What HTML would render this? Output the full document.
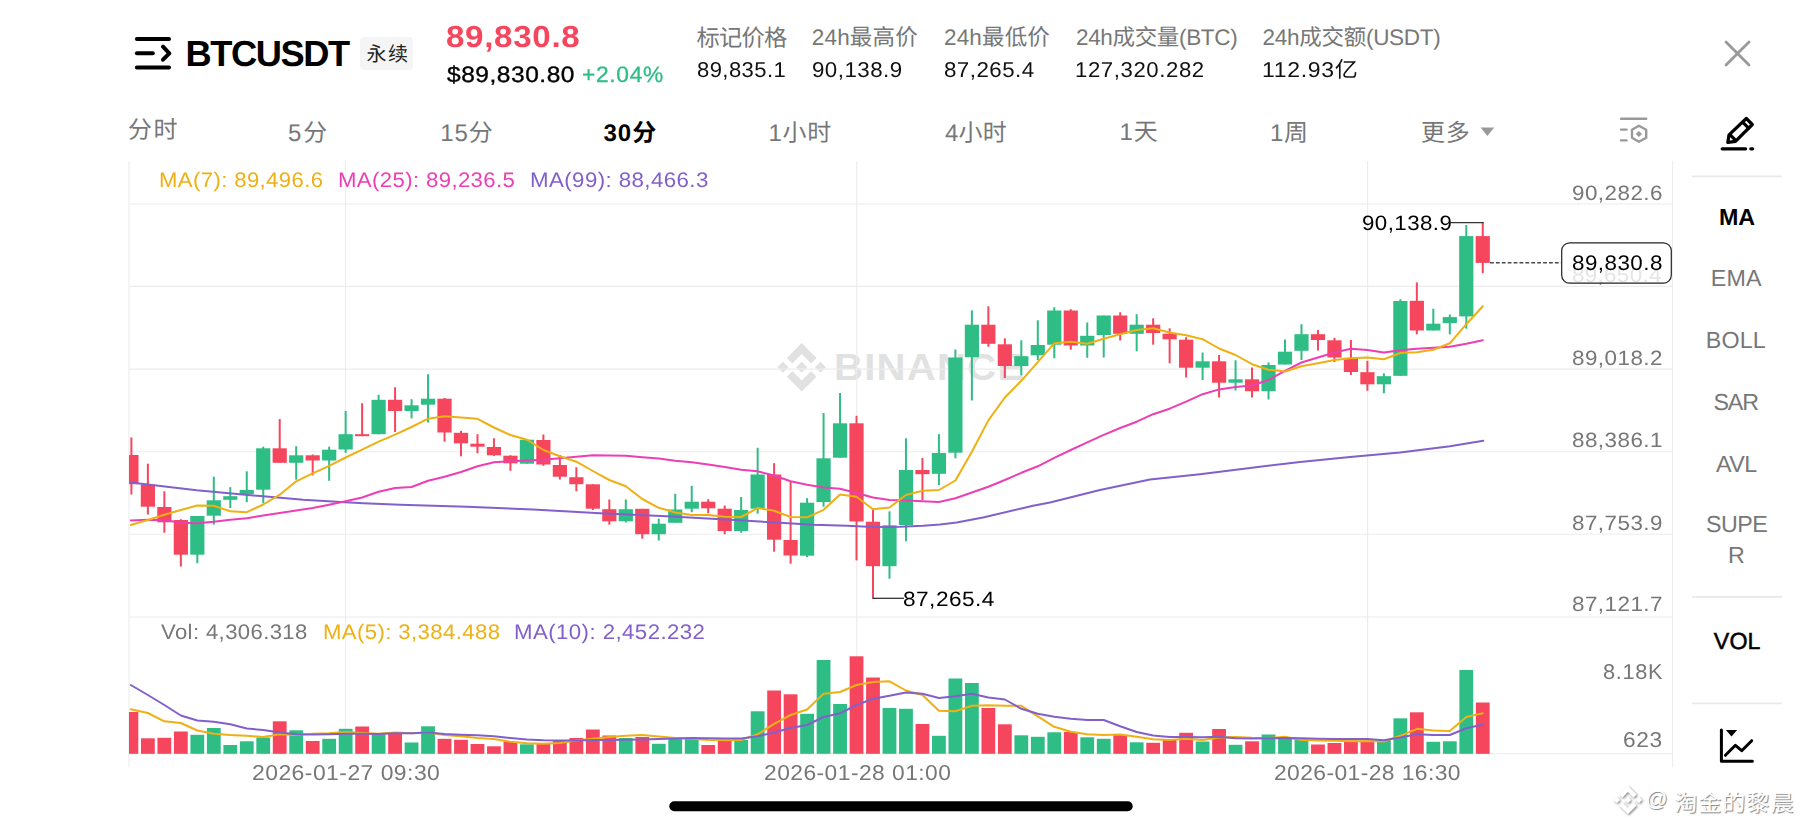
<!DOCTYPE html>
<html lang="zh"><head><meta charset="utf-8"><title>BTCUSDT</title>
<style>
html,body{margin:0;padding:0;background:#fff;}
#root{position:relative;width:1801px;height:828px;overflow:hidden;background:#fff;font-family:'Liberation Sans','Noto Sans CJK SC',sans-serif;}
.t{position:absolute;white-space:pre;line-height:1;transform-origin:0 0;text-rendering:geometricPrecision;}
svg{position:absolute;left:0;top:0;}
#badge{position:absolute;left:360px;top:37px;width:53px;height:33px;background:#f5f5f5;border-radius:4px;}
#wmk{position:absolute;left:1648px;top:786px;font-size:24px;line-height:1;color:#cfcfcf;white-space:pre;letter-spacing:0.3px;text-shadow:0 0 2px #fff,1px 1px 1px #fff,-1px -1px 1px #fff,1px -1px 1px #fff,-1px 1px 1px #fff;}
</style></head><body>
<div id="root">
<div id="badge"></div>
<div class="t" id="afaint" style="left:1572.2px;top:266.0px;font-size:20.75px;letter-spacing:0.3px;color:#777;transform:scale(1.079,1.0);">89,650.4</div>
<svg width="1801" height="828" viewBox="0 0 1801 828">
<g transform="translate(777.45,343.05) scale(0.3831)" fill="#e1e1e1"><path d="M38.73 53.2l24.59-24.58 24.6 24.6 14.3-14.31L63.32 0 24.42 38.9z"/><path d="M0 63.31l14.3-14.31 14.31 14.31-14.31 14.3z"/><path d="M38.73 73.41l24.59 24.59 24.6-24.6 14.31 14.29-38.9 38.91-38.91-38.88z"/><path d="M98 63.31l14.3-14.31 14.31 14.3-14.31 14.32z"/><path d="M77.83 63.3L63.32 48.78 48.81 63.28l14.51 14.5z"/></g>
<text transform="translate(834.0,380.3) scale(1.064,1.0)" font-family="'Liberation Sans','Noto Sans CJK SC',sans-serif" font-weight="700" font-size="37.75" letter-spacing="1.14" fill="#e1e1e1">BINANCE</text>
<line x1="129" y1="204" x2="1672.5" y2="204" stroke="#ececec" stroke-width="1.1"/>
<line x1="129" y1="286.4" x2="1672.5" y2="286.4" stroke="#ececec" stroke-width="1.1"/>
<line x1="129" y1="369.1" x2="1672.5" y2="369.1" stroke="#ececec" stroke-width="1.1"/>
<line x1="129" y1="451.7" x2="1672.5" y2="451.7" stroke="#ececec" stroke-width="1.1"/>
<line x1="129" y1="534.3" x2="1672.5" y2="534.3" stroke="#ececec" stroke-width="1.1"/>
<line x1="129" y1="617" x2="1672.5" y2="617" stroke="#ececec" stroke-width="1.1"/>
<line x1="129" y1="753.8" x2="1672.5" y2="753.8" stroke="#ececec" stroke-width="1.1"/>
<line x1="345.5" y1="161" x2="345.5" y2="753.8" stroke="#ececec" stroke-width="1.1"/>
<line x1="856.7" y1="161" x2="856.7" y2="753.8" stroke="#ececec" stroke-width="1.1"/>
<line x1="1367.6" y1="161" x2="1367.6" y2="753.8" stroke="#ececec" stroke-width="1.1"/>
<line x1="129" y1="161" x2="129" y2="767" stroke="#ececec" stroke-width="1.1"/>
<line x1="1672.5" y1="161" x2="1672.5" y2="767" stroke="#ececec" stroke-width="1.1"/>
<clipPath id="cc"><rect x="129" y="150" width="1543.5" height="640"/></clipPath>
<g clip-path="url(#cc)">
<rect x="130.4" y="437.5" width="2" height="57" fill="#f6465d"/>
<rect x="124.3" y="455" width="14.2" height="29.2" fill="#f6465d"/>
<rect x="146.88" y="463.7" width="2" height="50.8" fill="#f6465d"/>
<rect x="140.78" y="484.7" width="14.2" height="22" fill="#f6465d"/>
<rect x="163.36" y="491.3" width="2" height="41.4" fill="#f6465d"/>
<rect x="157.26" y="507" width="14.2" height="15.3" fill="#f6465d"/>
<rect x="179.84" y="519.2" width="2" height="47.3" fill="#f6465d"/>
<rect x="173.74" y="520" width="14.2" height="34.7" fill="#f6465d"/>
<rect x="196.32" y="516" width="2" height="47.2" fill="#2ebd85"/>
<rect x="190.22" y="516" width="14.2" height="38.7" fill="#2ebd85"/>
<rect x="212.8" y="476.7" width="2" height="48" fill="#2ebd85"/>
<rect x="206.7" y="500.3" width="14.2" height="15.4" fill="#2ebd85"/>
<rect x="229.28" y="487.2" width="2" height="20.8" fill="#2ebd85"/>
<rect x="223.18" y="496.2" width="14.2" height="3.6" fill="#2ebd85"/>
<rect x="245.76" y="471.3" width="2" height="30.9" fill="#2ebd85"/>
<rect x="239.66" y="490" width="14.2" height="4.3" fill="#2ebd85"/>
<rect x="262.24" y="446.7" width="2" height="56.6" fill="#2ebd85"/>
<rect x="256.14" y="448.3" width="14.2" height="41.4" fill="#2ebd85"/>
<rect x="278.72" y="419.1" width="2" height="43.7" fill="#f6465d"/>
<rect x="272.62" y="448.3" width="14.2" height="14.5" fill="#f6465d"/>
<rect x="295.2" y="446.2" width="2" height="33.5" fill="#2ebd85"/>
<rect x="289.1" y="455.3" width="14.2" height="7.5" fill="#2ebd85"/>
<rect x="311.68" y="454.5" width="2" height="20.8" fill="#f6465d"/>
<rect x="305.58" y="455.3" width="14.2" height="5.2" fill="#f6465d"/>
<rect x="328.16" y="446.7" width="2" height="34.1" fill="#2ebd85"/>
<rect x="322.06" y="449.7" width="14.2" height="10.8" fill="#2ebd85"/>
<rect x="344.64" y="411" width="2" height="41.8" fill="#2ebd85"/>
<rect x="338.54" y="434.2" width="14.2" height="15.3" fill="#2ebd85"/>
<rect x="361.12" y="403.2" width="2" height="33" fill="#f6465d"/>
<rect x="355.02" y="434.2" width="14.2" height="2" fill="#f6465d"/>
<rect x="377.6" y="394.8" width="2" height="39.4" fill="#2ebd85"/>
<rect x="371.5" y="399.8" width="14.2" height="34.4" fill="#2ebd85"/>
<rect x="394.08" y="387.3" width="2" height="44.7" fill="#f6465d"/>
<rect x="387.98" y="399.8" width="14.2" height="11.2" fill="#f6465d"/>
<rect x="410.56" y="399.2" width="2" height="19.2" fill="#2ebd85"/>
<rect x="404.46" y="405.3" width="14.2" height="5.7" fill="#2ebd85"/>
<rect x="427.04" y="374.2" width="2" height="48.3" fill="#2ebd85"/>
<rect x="420.94" y="398.7" width="14.2" height="6" fill="#2ebd85"/>
<rect x="443.52" y="398" width="2" height="43.7" fill="#f6465d"/>
<rect x="437.42" y="398.7" width="14.2" height="33.8" fill="#f6465d"/>
<rect x="460" y="430.8" width="2" height="25.5" fill="#f6465d"/>
<rect x="453.9" y="432.8" width="14.2" height="10.5" fill="#f6465d"/>
<rect x="476.48" y="434.2" width="2" height="19.1" fill="#f6465d"/>
<rect x="470.38" y="443.7" width="14.2" height="3" fill="#f6465d"/>
<rect x="492.96" y="438.3" width="2" height="17.5" fill="#f6465d"/>
<rect x="486.86" y="447" width="14.2" height="8.3" fill="#f6465d"/>
<rect x="509.44" y="455.3" width="2" height="15.5" fill="#f6465d"/>
<rect x="503.34" y="455.7" width="14.2" height="7.6" fill="#f6465d"/>
<rect x="525.92" y="439.7" width="2" height="24" fill="#2ebd85"/>
<rect x="519.82" y="439.7" width="14.2" height="24" fill="#2ebd85"/>
<rect x="542.4" y="434.5" width="2" height="31.3" fill="#f6465d"/>
<rect x="536.3" y="440" width="14.2" height="24.5" fill="#f6465d"/>
<rect x="558.88" y="455" width="2" height="24.5" fill="#f6465d"/>
<rect x="552.78" y="465" width="14.2" height="11.7" fill="#f6465d"/>
<rect x="575.36" y="467.2" width="2" height="24.1" fill="#f6465d"/>
<rect x="569.26" y="477.2" width="14.2" height="7" fill="#f6465d"/>
<rect x="591.84" y="484.3" width="2" height="25.7" fill="#f6465d"/>
<rect x="585.74" y="484.3" width="14.2" height="24.4" fill="#f6465d"/>
<rect x="608.32" y="499.5" width="2" height="25.2" fill="#f6465d"/>
<rect x="602.22" y="509.2" width="14.2" height="12.1" fill="#f6465d"/>
<rect x="624.8" y="499.5" width="2" height="23" fill="#2ebd85"/>
<rect x="618.7" y="509.2" width="14.2" height="12.1" fill="#2ebd85"/>
<rect x="641.28" y="508.8" width="2" height="29.9" fill="#f6465d"/>
<rect x="635.18" y="508.8" width="14.2" height="25.4" fill="#f6465d"/>
<rect x="657.76" y="518.7" width="2" height="21.8" fill="#2ebd85"/>
<rect x="651.66" y="523.7" width="14.2" height="10.5" fill="#2ebd85"/>
<rect x="674.24" y="493.8" width="2" height="29" fill="#2ebd85"/>
<rect x="668.14" y="509.5" width="14.2" height="13.3" fill="#2ebd85"/>
<rect x="690.72" y="485.8" width="2" height="26.4" fill="#2ebd85"/>
<rect x="684.62" y="501.7" width="14.2" height="7" fill="#2ebd85"/>
<rect x="707.2" y="499.2" width="2" height="14.1" fill="#f6465d"/>
<rect x="701.1" y="501.7" width="14.2" height="6.6" fill="#f6465d"/>
<rect x="723.68" y="505.5" width="2" height="28.7" fill="#f6465d"/>
<rect x="717.58" y="508.7" width="14.2" height="22.3" fill="#f6465d"/>
<rect x="740.16" y="497" width="2" height="35.7" fill="#2ebd85"/>
<rect x="734.06" y="510" width="14.2" height="21" fill="#2ebd85"/>
<rect x="756.64" y="447.8" width="2" height="65.9" fill="#2ebd85"/>
<rect x="750.54" y="474.5" width="14.2" height="34.2" fill="#2ebd85"/>
<rect x="773.12" y="463.2" width="2" height="88.5" fill="#f6465d"/>
<rect x="767.02" y="474.5" width="14.2" height="65.2" fill="#f6465d"/>
<rect x="789.6" y="482" width="2" height="81.7" fill="#f6465d"/>
<rect x="783.5" y="540" width="14.2" height="15.5" fill="#f6465d"/>
<rect x="806.08" y="498.2" width="2" height="59" fill="#2ebd85"/>
<rect x="799.98" y="502.7" width="14.2" height="53" fill="#2ebd85"/>
<rect x="822.56" y="413" width="2" height="93.7" fill="#2ebd85"/>
<rect x="816.46" y="458.3" width="14.2" height="43.7" fill="#2ebd85"/>
<rect x="839.04" y="393" width="2" height="64.7" fill="#2ebd85"/>
<rect x="832.94" y="423.3" width="14.2" height="34.4" fill="#2ebd85"/>
<rect x="855.52" y="415.8" width="2" height="144.6" fill="#f6465d"/>
<rect x="849.42" y="423.3" width="14.2" height="98.2" fill="#f6465d"/>
<rect x="872" y="508.3" width="2" height="90" fill="#f6465d"/>
<rect x="865.9" y="521.7" width="14.2" height="44.5" fill="#f6465d"/>
<rect x="888.48" y="511.3" width="2" height="67.4" fill="#2ebd85"/>
<rect x="882.38" y="525.3" width="14.2" height="40.9" fill="#2ebd85"/>
<rect x="904.96" y="438.3" width="2" height="103" fill="#2ebd85"/>
<rect x="898.86" y="470" width="14.2" height="55" fill="#2ebd85"/>
<rect x="921.44" y="458" width="2" height="42" fill="#f6465d"/>
<rect x="915.34" y="470" width="14.2" height="4.2" fill="#f6465d"/>
<rect x="937.92" y="434.2" width="2" height="50.8" fill="#2ebd85"/>
<rect x="931.82" y="453" width="14.2" height="20.8" fill="#2ebd85"/>
<rect x="954.4" y="349.5" width="2" height="108.8" fill="#2ebd85"/>
<rect x="948.3" y="357.5" width="14.2" height="95.2" fill="#2ebd85"/>
<rect x="970.88" y="310.3" width="2" height="90.2" fill="#2ebd85"/>
<rect x="964.78" y="324.7" width="14.2" height="32.5" fill="#2ebd85"/>
<rect x="987.36" y="306.3" width="2" height="40.4" fill="#f6465d"/>
<rect x="981.26" y="324.7" width="14.2" height="19.1" fill="#f6465d"/>
<rect x="1003.84" y="338.3" width="2" height="39.7" fill="#f6465d"/>
<rect x="997.74" y="344.3" width="14.2" height="21.7" fill="#f6465d"/>
<rect x="1020.32" y="340.3" width="2" height="35.2" fill="#2ebd85"/>
<rect x="1014.22" y="356.2" width="14.2" height="9.8" fill="#2ebd85"/>
<rect x="1036.8" y="320.3" width="2" height="39.7" fill="#2ebd85"/>
<rect x="1030.7" y="345" width="14.2" height="10.3" fill="#2ebd85"/>
<rect x="1053.28" y="307.2" width="2" height="51.1" fill="#2ebd85"/>
<rect x="1047.18" y="310.5" width="14.2" height="34.2" fill="#2ebd85"/>
<rect x="1069.76" y="309.2" width="2" height="40.5" fill="#f6465d"/>
<rect x="1063.66" y="310.5" width="14.2" height="35" fill="#f6465d"/>
<rect x="1086.24" y="322.5" width="2" height="35.3" fill="#2ebd85"/>
<rect x="1080.14" y="335.8" width="14.2" height="9.7" fill="#2ebd85"/>
<rect x="1102.72" y="315.5" width="2" height="42" fill="#2ebd85"/>
<rect x="1096.62" y="315.5" width="14.2" height="19.5" fill="#2ebd85"/>
<rect x="1119.2" y="312.2" width="2" height="28.3" fill="#f6465d"/>
<rect x="1113.1" y="315.5" width="14.2" height="18.3" fill="#f6465d"/>
<rect x="1135.68" y="314.2" width="2" height="37.1" fill="#2ebd85"/>
<rect x="1129.58" y="324.7" width="14.2" height="9.1" fill="#2ebd85"/>
<rect x="1152.16" y="318.3" width="2" height="26.4" fill="#f6465d"/>
<rect x="1146.06" y="324.7" width="14.2" height="8.3" fill="#f6465d"/>
<rect x="1168.64" y="328.3" width="2" height="35" fill="#f6465d"/>
<rect x="1162.54" y="333.7" width="14.2" height="5.6" fill="#f6465d"/>
<rect x="1185.12" y="337.2" width="2" height="40.3" fill="#f6465d"/>
<rect x="1179.02" y="339.7" width="14.2" height="28" fill="#f6465d"/>
<rect x="1201.6" y="352.5" width="2" height="27.5" fill="#2ebd85"/>
<rect x="1195.5" y="361.3" width="14.2" height="6.4" fill="#2ebd85"/>
<rect x="1218.08" y="355" width="2" height="42.5" fill="#f6465d"/>
<rect x="1211.98" y="361.3" width="14.2" height="21.4" fill="#f6465d"/>
<rect x="1234.56" y="360.3" width="2" height="30.2" fill="#2ebd85"/>
<rect x="1228.46" y="379.3" width="14.2" height="3.4" fill="#2ebd85"/>
<rect x="1251.04" y="367.5" width="2" height="30" fill="#f6465d"/>
<rect x="1244.94" y="379.3" width="14.2" height="11.9" fill="#f6465d"/>
<rect x="1267.52" y="362.5" width="2" height="37" fill="#2ebd85"/>
<rect x="1261.42" y="365" width="14.2" height="26.2" fill="#2ebd85"/>
<rect x="1284" y="339.5" width="2" height="25" fill="#2ebd85"/>
<rect x="1277.9" y="351.7" width="14.2" height="12.8" fill="#2ebd85"/>
<rect x="1300.48" y="324.2" width="2" height="35.8" fill="#2ebd85"/>
<rect x="1294.38" y="334.2" width="14.2" height="16.6" fill="#2ebd85"/>
<rect x="1316.96" y="330" width="2" height="20.5" fill="#f6465d"/>
<rect x="1310.86" y="334.2" width="14.2" height="5.8" fill="#f6465d"/>
<rect x="1333.44" y="337.8" width="2" height="24.2" fill="#f6465d"/>
<rect x="1327.34" y="340.3" width="14.2" height="17.2" fill="#f6465d"/>
<rect x="1349.92" y="340" width="2" height="35" fill="#f6465d"/>
<rect x="1343.82" y="357.8" width="14.2" height="14.2" fill="#f6465d"/>
<rect x="1366.4" y="360.8" width="2" height="30" fill="#f6465d"/>
<rect x="1360.3" y="372.2" width="14.2" height="12.1" fill="#f6465d"/>
<rect x="1382.88" y="373.3" width="2" height="20" fill="#2ebd85"/>
<rect x="1376.78" y="376.2" width="14.2" height="8.1" fill="#2ebd85"/>
<rect x="1399.36" y="299.2" width="2" height="76.6" fill="#2ebd85"/>
<rect x="1393.26" y="301" width="14.2" height="74.8" fill="#2ebd85"/>
<rect x="1415.84" y="282.4" width="2" height="51.9" fill="#f6465d"/>
<rect x="1409.74" y="300.8" width="14.2" height="29.7" fill="#f6465d"/>
<rect x="1432.32" y="308.7" width="2" height="21.8" fill="#2ebd85"/>
<rect x="1426.22" y="323.7" width="14.2" height="6.8" fill="#2ebd85"/>
<rect x="1448.8" y="314.5" width="2" height="19.9" fill="#2ebd85"/>
<rect x="1442.7" y="317.1" width="14.2" height="6" fill="#2ebd85"/>
<rect x="1465.28" y="225" width="2" height="103.6" fill="#2ebd85"/>
<rect x="1459.18" y="236.1" width="14.2" height="80.3" fill="#2ebd85"/>
<rect x="1481.76" y="222.7" width="2" height="50.5" fill="#f6465d"/>
<rect x="1475.66" y="236.1" width="14.2" height="26.8" fill="#f6465d"/>
<rect x="124.5" y="712" width="13.8" height="41.8" fill="#f6465d"/>
<rect x="140.98" y="738.3" width="13.8" height="15.5" fill="#f6465d"/>
<rect x="157.46" y="737.8" width="13.8" height="16" fill="#f6465d"/>
<rect x="173.94" y="731.5" width="13.8" height="22.3" fill="#f6465d"/>
<rect x="190.42" y="734.8" width="13.8" height="19" fill="#2ebd85"/>
<rect x="206.9" y="728" width="13.8" height="25.8" fill="#2ebd85"/>
<rect x="223.38" y="745" width="13.8" height="8.8" fill="#2ebd85"/>
<rect x="239.86" y="741.3" width="13.8" height="12.5" fill="#2ebd85"/>
<rect x="256.34" y="737.5" width="13.8" height="16.3" fill="#2ebd85"/>
<rect x="272.82" y="721.3" width="13.8" height="32.5" fill="#f6465d"/>
<rect x="289.3" y="730.3" width="13.8" height="23.5" fill="#2ebd85"/>
<rect x="305.78" y="741" width="13.8" height="12.8" fill="#f6465d"/>
<rect x="322.26" y="738.8" width="13.8" height="15" fill="#2ebd85"/>
<rect x="338.74" y="728.8" width="13.8" height="25" fill="#2ebd85"/>
<rect x="355.22" y="726.5" width="13.8" height="27.3" fill="#f6465d"/>
<rect x="371.7" y="734.3" width="13.8" height="19.5" fill="#2ebd85"/>
<rect x="388.18" y="733" width="13.8" height="20.8" fill="#f6465d"/>
<rect x="404.66" y="742.5" width="13.8" height="11.3" fill="#2ebd85"/>
<rect x="421.14" y="726.3" width="13.8" height="27.5" fill="#2ebd85"/>
<rect x="437.62" y="738.8" width="13.8" height="15" fill="#f6465d"/>
<rect x="454.1" y="739.8" width="13.8" height="14" fill="#f6465d"/>
<rect x="470.58" y="744" width="13.8" height="9.8" fill="#f6465d"/>
<rect x="487.06" y="746.3" width="13.8" height="7.5" fill="#f6465d"/>
<rect x="503.54" y="741.8" width="13.8" height="12" fill="#f6465d"/>
<rect x="520.02" y="744.3" width="13.8" height="9.5" fill="#2ebd85"/>
<rect x="536.5" y="743.8" width="13.8" height="10" fill="#f6465d"/>
<rect x="552.98" y="741" width="13.8" height="12.8" fill="#f6465d"/>
<rect x="569.46" y="738" width="13.8" height="15.8" fill="#f6465d"/>
<rect x="585.94" y="729.5" width="13.8" height="24.3" fill="#f6465d"/>
<rect x="602.42" y="735.5" width="13.8" height="18.3" fill="#f6465d"/>
<rect x="618.9" y="738" width="13.8" height="15.8" fill="#2ebd85"/>
<rect x="635.38" y="737" width="13.8" height="16.8" fill="#f6465d"/>
<rect x="651.86" y="743.8" width="13.8" height="10" fill="#2ebd85"/>
<rect x="668.34" y="738.8" width="13.8" height="15" fill="#2ebd85"/>
<rect x="684.82" y="738.8" width="13.8" height="15" fill="#2ebd85"/>
<rect x="701.3" y="745" width="13.8" height="8.8" fill="#f6465d"/>
<rect x="717.78" y="740" width="13.8" height="13.8" fill="#f6465d"/>
<rect x="734.26" y="740" width="13.8" height="13.8" fill="#2ebd85"/>
<rect x="750.74" y="711.3" width="13.8" height="42.5" fill="#2ebd85"/>
<rect x="767.22" y="690.5" width="13.8" height="63.3" fill="#f6465d"/>
<rect x="783.7" y="694.3" width="13.8" height="59.5" fill="#f6465d"/>
<rect x="800.18" y="713.8" width="13.8" height="40" fill="#2ebd85"/>
<rect x="816.66" y="660" width="13.8" height="93.8" fill="#2ebd85"/>
<rect x="833.14" y="704" width="13.8" height="49.8" fill="#2ebd85"/>
<rect x="849.62" y="656.3" width="13.8" height="97.5" fill="#f6465d"/>
<rect x="866.1" y="677.5" width="13.8" height="76.3" fill="#f6465d"/>
<rect x="882.58" y="708" width="13.8" height="45.8" fill="#2ebd85"/>
<rect x="899.06" y="708.8" width="13.8" height="45" fill="#2ebd85"/>
<rect x="915.54" y="724" width="13.8" height="29.8" fill="#f6465d"/>
<rect x="932.02" y="735.8" width="13.8" height="18" fill="#2ebd85"/>
<rect x="948.5" y="678.5" width="13.8" height="75.3" fill="#2ebd85"/>
<rect x="964.98" y="683" width="13.8" height="70.8" fill="#2ebd85"/>
<rect x="981.46" y="708" width="13.8" height="45.8" fill="#f6465d"/>
<rect x="997.94" y="724.3" width="13.8" height="29.5" fill="#f6465d"/>
<rect x="1014.42" y="735.3" width="13.8" height="18.5" fill="#2ebd85"/>
<rect x="1030.9" y="736.8" width="13.8" height="17" fill="#2ebd85"/>
<rect x="1047.38" y="732.3" width="13.8" height="21.5" fill="#2ebd85"/>
<rect x="1063.86" y="732" width="13.8" height="21.8" fill="#f6465d"/>
<rect x="1080.34" y="737.3" width="13.8" height="16.5" fill="#2ebd85"/>
<rect x="1096.82" y="738.8" width="13.8" height="15" fill="#2ebd85"/>
<rect x="1113.3" y="735" width="13.8" height="18.8" fill="#f6465d"/>
<rect x="1129.78" y="742.3" width="13.8" height="11.5" fill="#2ebd85"/>
<rect x="1146.26" y="742.8" width="13.8" height="11" fill="#f6465d"/>
<rect x="1162.74" y="739.5" width="13.8" height="14.3" fill="#f6465d"/>
<rect x="1179.22" y="732.8" width="13.8" height="21" fill="#f6465d"/>
<rect x="1195.7" y="741.5" width="13.8" height="12.3" fill="#2ebd85"/>
<rect x="1212.18" y="729" width="13.8" height="24.8" fill="#f6465d"/>
<rect x="1228.66" y="744.8" width="13.8" height="9" fill="#2ebd85"/>
<rect x="1245.14" y="741.3" width="13.8" height="12.5" fill="#f6465d"/>
<rect x="1261.62" y="734.5" width="13.8" height="19.3" fill="#2ebd85"/>
<rect x="1278.1" y="737.5" width="13.8" height="16.3" fill="#2ebd85"/>
<rect x="1294.58" y="739.3" width="13.8" height="14.5" fill="#2ebd85"/>
<rect x="1311.06" y="744.5" width="13.8" height="9.3" fill="#f6465d"/>
<rect x="1327.54" y="743" width="13.8" height="10.8" fill="#f6465d"/>
<rect x="1344.02" y="740.5" width="13.8" height="13.3" fill="#f6465d"/>
<rect x="1360.5" y="741" width="13.8" height="12.8" fill="#f6465d"/>
<rect x="1376.98" y="740" width="13.8" height="13.8" fill="#2ebd85"/>
<rect x="1393.46" y="718.3" width="13.8" height="35.5" fill="#2ebd85"/>
<rect x="1409.94" y="712.3" width="13.8" height="41.5" fill="#f6465d"/>
<rect x="1426.42" y="741.8" width="13.8" height="12" fill="#2ebd85"/>
<rect x="1442.9" y="741.3" width="13.8" height="12.5" fill="#2ebd85"/>
<rect x="1459.38" y="670" width="13.8" height="83.8" fill="#2ebd85"/>
<rect x="1475.86" y="702.5" width="13.8" height="51.3" fill="#f6465d"/>
<polyline points="130.8,482.5 196.7,490.3 263.3,496.3 303.3,499.7 336.7,501.7 363.3,503.3 400,504.7 466.7,506.7 533,509.5 600,513.3 666.7,516.2 730,519.7 780,522.8 813,524.8 847,525.8 873,527 900,526.7 923,525.8 940,524.5 956.7,522.5 983,517.5 1033,505.8 1050,502.5 1100,490 1150,479.5 1200,474.3 1250,468 1300,462 1350,457 1400,452.5 1450,446.3 1483.3,440.8" fill="none" stroke="#8260cc" stroke-width="2" stroke-linejoin="round" stroke-linecap="round"/>
<polyline points="130.8,520.5 147.88,519.7 164.36,520 180.84,522.8 197.32,523.3 213.8,521.7 230.28,519.7 246.76,518.3 263.24,515.5 279.72,513 296.2,510.5 312.68,508 329.16,504.7 345.64,501.2 362.12,497.5 378.6,491.7 395.08,488 411.56,487 428.04,480.8 444.52,476.7 461,472 477.48,466.2 493.96,462.3 510.44,461.2 526.92,460.5 543.4,459.7 559.88,458.3 576.36,456.7 592.84,455.2 609.32,455.5 625.8,455.8 642.28,457.2 658.76,458.5 675.24,460.8 691.72,462.3 708.2,464.4 724.68,467 741.16,469.7 757.64,471.3 774.12,475.5 790.6,481.2 807.08,484.8 823.56,487.5 840.04,488.7 856.52,493 873,497.5 889.48,500 905.96,500.5 922.44,501.3 938.92,502 955.4,498.3 971.88,492.5 988.36,486.7 1004.84,480 1021.32,472.8 1037.8,466.3 1054.28,457.8 1070.76,450 1087.24,442.3 1103.72,434.8 1120.2,428 1136.68,421.7 1153.16,414.2 1169.64,408.7 1186.12,401.7 1202.6,394.2 1219.08,389.4 1235.56,387 1252.04,385.5 1268.52,380 1285,370.8 1301.48,362.5 1317.96,357.5 1334.44,352.5 1350.92,348.8 1367.4,350 1383.88,352.5 1400.36,350.3 1416.84,348.8 1433.32,347.8 1449.8,346.7 1466.28,343.7 1482.76,340.3" fill="none" stroke="#ec3fb4" stroke-width="2" stroke-linejoin="round" stroke-linecap="round"/>
<polyline points="130.8,525 147.88,520 164.36,514.7 180.84,510 197.32,505.5 213.8,505.8 230.28,511.3 246.76,512.2 263.24,504.5 279.72,494.7 296.2,481.3 312.68,473.3 329.16,465.8 345.64,457.5 362.12,449.7 378.6,441.7 395.08,434.7 411.56,427 428.04,418.7 444.52,416.2 461,417.5 477.48,418.8 493.96,427.5 510.44,435 526.92,439.7 543.4,450 559.88,456.2 576.36,461.7 592.84,471 609.32,480 625.8,486.3 642.28,499 658.76,507.8 675.24,512.5 691.72,515 708.2,515 724.68,516.7 741.16,517 757.64,508 774.12,510.8 790.6,517 807.08,517.3 823.56,509.8 840.04,494.6 856.52,496.7 873,509.2 889.48,507.5 905.96,495 922.44,490.8 938.92,490 955.4,480.5 971.88,451.7 988.36,420.4 1004.84,397.5 1021.32,380.8 1037.8,362.2 1054.28,343.3 1070.76,341.7 1087.24,343.7 1103.72,338.7 1120.2,334.2 1136.68,330 1153.16,328.3 1169.64,332.5 1186.12,335.3 1202.6,339.2 1219.08,348.5 1235.56,355 1252.04,364.2 1268.52,369.7 1285,371.5 1301.48,366.3 1317.96,363.3 1334.44,360 1350.92,358.3 1367.4,357.5 1383.88,359.2 1400.36,353 1416.84,352.2 1433.32,349.7 1449.8,343.3 1466.28,324.2 1482.76,306.3" fill="none" stroke="#eeb012" stroke-width="2" stroke-linejoin="round" stroke-linecap="round"/>
<polyline points="130.8,709.3 147.88,713 164.36,721.3 180.84,723 197.32,730.5 213.8,733.8 230.28,735 246.76,735.8 263.24,737 279.72,734.3 296.2,735 312.68,733.8 329.16,733.3 345.64,732 362.12,733 378.6,733.8 395.08,732.5 411.56,733.3 428.04,732.5 444.52,735 461,736.3 477.48,738 493.96,739 510.44,741.8 526.92,743.3 543.4,743.8 559.88,742.9 576.36,740.5 592.84,738.8 609.32,737 625.8,735.8 642.28,735 658.76,736.5 675.24,738 691.72,738.8 708.2,740 724.68,740.3 741.16,740 757.64,734.3 774.12,723.8 790.6,715 807.08,709.5 823.56,693.8 840.04,692 856.52,685 873,682 889.48,681.3 905.96,690.5 922.44,695 938.92,710.8 955.4,711.3 971.88,705.8 988.36,705.3 1004.84,705.8 1021.32,705.8 1037.8,716.3 1054.28,726.8 1070.76,731.8 1087.24,734.3 1103.72,735 1120.2,734.5 1136.68,736.8 1153.16,739.3 1169.64,740 1186.12,738.8 1202.6,740 1219.08,737.5 1235.56,737 1252.04,737.8 1268.52,738 1285,736.8 1301.48,740 1317.96,740.5 1334.44,740.8 1350.92,741.3 1367.4,741 1383.88,741.5 1400.36,735.8 1416.84,728.8 1433.32,730.5 1449.8,731 1466.28,717 1482.76,713.3" fill="none" stroke="#eeb012" stroke-width="2" stroke-linejoin="round" stroke-linecap="round"/>
<polyline points="130.8,685 147.88,695 164.36,705 180.84,715.5 197.32,720.5 213.8,721.8 230.28,724.3 246.76,728.5 263.24,730 279.72,732.5 296.2,734.3 312.68,734.5 329.16,734.3 345.64,733.8 362.12,733.8 378.6,734 395.08,733.3 411.56,733.3 428.04,732.5 444.52,734 461,734.8 477.48,735.3 493.96,736.3 510.44,738 526.92,739.5 543.4,740.3 559.88,740.5 576.36,740.5 592.84,740 609.32,740 625.8,739.8 642.28,739.5 658.76,739 675.24,738.5 691.72,738 708.2,738.3 724.68,738.5 741.16,738.5 757.64,736.3 774.12,732.5 790.6,728 807.08,725 823.56,717 840.04,713.3 856.52,705 873,698.8 889.48,695.8 905.96,692.5 922.44,693.8 938.92,698 955.4,696.3 971.88,693.8 988.36,697.5 1004.84,699.5 1021.32,708.8 1037.8,713.8 1054.28,716.8 1070.76,718.8 1087.24,720 1103.72,720 1120.2,726.3 1136.68,732 1153.16,735.5 1169.64,737 1186.12,737 1202.6,737.3 1219.08,736.8 1235.56,738.3 1252.04,738.5 1268.52,738.3 1285,738 1301.48,738.3 1317.96,738.8 1334.44,739 1350.92,739 1367.4,739 1383.88,740.3 1400.36,737.5 1416.84,734.3 1433.32,735 1449.8,735 1466.28,728.3 1482.76,724.5" fill="none" stroke="#8260cc" stroke-width="2" stroke-linejoin="round" stroke-linecap="round"/>
</g>
<line x1="1451" y1="222.6" x2="1483.8" y2="222.6" stroke="#333" stroke-width="1.1"/>
<line x1="872.5" y1="598.3" x2="904" y2="598.3" stroke="#222" stroke-width="1.2"/>
<line x1="1490" y1="262.7" x2="1561" y2="262.7" stroke="#4a4a4a" stroke-width="1.5" stroke-dasharray="3.8 2.1"/>
<rect x="1561.7" y="242.8" width="109.6" height="40.4" rx="8" ry="8" fill="rgba(255,255,255,0.8)" stroke="#222" stroke-width="1.2"/>
<g stroke="#000" stroke-width="4" stroke-linecap="round" stroke-linejoin="round" fill="none"><line x1="136.9" y1="39.1" x2="169" y2="39.1"/><line x1="136.9" y1="53.3" x2="152.8" y2="53.3"/><line x1="136.9" y1="67.5" x2="169" y2="67.5"/><polyline points="163,46.7 169.3,53.3 163,59.7"/></g>
<g stroke="#999" stroke-width="2.8" stroke-linecap="round"><line x1="1726" y1="42" x2="1749" y2="65"/><line x1="1749" y1="42" x2="1726" y2="65"/></g>
<path d="M1480.6 127.6 L1494.2 127.6 L1487.4 136 Z" fill="#999"/>
<g stroke="#999" stroke-width="2.4" stroke-linecap="round" fill="none"><line x1="1621.1" y1="118.7" x2="1646.2" y2="118.7"/><line x1="1621.1" y1="129.6" x2="1626.5" y2="129.6"/><line x1="1621.1" y1="140.4" x2="1626.5" y2="140.4"/><path d="M1638.9 125.7 L1646.2 129.7 L1646.2 137.8 L1638.9 141.8 L1632 137.8 L1632 129.7 Z" stroke-linejoin="round"/></g><path d="M1638.9 130.9 L1642 134 L1638.9 137.1 L1635.8 134 Z" fill="#999"/>
<g stroke="#000" stroke-width="3.2" stroke-linecap="round" stroke-linejoin="round" fill="none"><path d="M1746.3 118.5 L1752.3 124.5 L1735.5 141.3 L1727.8 142.4 L1729 134.8 Z"/><line x1="1742.6" y1="122.2" x2="1748.6" y2="128.2"/><line x1="1730.2" y1="134.9" x2="1735.4" y2="140.1"/><line x1="1722.2" y1="148.8" x2="1745.6" y2="148.8"/><line x1="1750.8" y1="148.8" x2="1752.6" y2="148.8"/></g>
<line x1="1692" y1="176.4" x2="1782" y2="176.4" stroke="#e9e9e9" stroke-width="1.8"/>
<line x1="1692" y1="596.9" x2="1782" y2="596.9" stroke="#e9e9e9" stroke-width="1.8"/>
<line x1="1692" y1="703.3" x2="1782" y2="703.3" stroke="#e9e9e9" stroke-width="1.8"/>
<g stroke="#000" stroke-width="3" stroke-linecap="round" stroke-linejoin="round" fill="none"><polyline points="1721.4,729.9 1721.4,761.2 1752.4,761.2"/><polyline points="1725.4,755.3 1735.4,745.3 1741.7,750.7 1751.7,740.7"/></g><path d="M1725.9 730.1 L1737.1 730.1 L1731.5 736.5 Z" fill="#000"/>
<rect x="669.3" y="801.2" width="463.4" height="10" rx="5" fill="#000"/>
</svg>
<div class="t" id="sym" style="left:185.5px;top:36.0px;font-size:36.25px;letter-spacing:-1.42px;color:#000;font-weight:700;">BTCUSDT</div>
<div class="t" id="perp" style="left:366.5px;top:45.0px;font-size:20.0px;letter-spacing:1.5px;color:#222;">永续</div>
<div class="t" id="price" style="left:446.0px;top:22.0px;font-size:30.5px;letter-spacing:0.62px;color:#f6465d;font-weight:700;transform:scale(1.087,1.0);">89,830.8</div>
<div class="t" id="usd" style="left:447.0px;top:64.0px;font-size:22.25px;letter-spacing:0.48px;color:#000;transform:scale(1.102,1.0);-webkit-text-stroke:0.35px #000;">$89,830.80</div>
<div class="t" id="chg" style="left:582.0px;top:64.0px;font-size:22.25px;letter-spacing:0.68px;color:#2ebd85;transform:scale(1.023,1.0);-webkit-text-stroke:0.3px #2ebd85;">+2.04%</div>
<div class="t" id="l1" style="left:696.5px;top:27.0px;font-size:23.25px;letter-spacing:-0.75px;color:#777;">标记价格</div>
<div class="t" id="v1" style="left:696.5px;top:60.0px;font-size:21.5px;letter-spacing:0.42px;color:#111;transform:scale(1.024,1.0);">89,835.1</div>
<div class="t" id="l2" style="left:811.8px;top:27.0px;font-size:22.5px;letter-spacing:0.16px;color:#777;">24h最高价</div>
<div class="t" id="v2" style="left:811.8px;top:60.0px;font-size:21.5px;letter-spacing:0.44px;color:#111;transform:scale(1.038,1.0);">90,138.9</div>
<div class="t" id="l3" style="left:944.0px;top:27.0px;font-size:22.5px;letter-spacing:0.16px;color:#777;">24h最低价</div>
<div class="t" id="v3" style="left:944.0px;top:60.0px;font-size:21.5px;letter-spacing:0.44px;color:#111;transform:scale(1.038,1.0);">87,265.4</div>
<div class="t" id="l4" style="left:1076.0px;top:27.0px;font-size:22.5px;letter-spacing:-0.34px;color:#777;">24h成交量(BTC)</div>
<div class="t" id="v4" style="left:1075.0px;top:60.0px;font-size:21.5px;letter-spacing:0.58px;color:#111;transform:scale(1.03,1.0);">127,320.282</div>
<div class="t" id="l5" style="left:1262.5px;top:27.0px;font-size:22.5px;letter-spacing:-0.27px;color:#777;">24h成交额(USDT)</div>
<div class="t" id="v5" style="left:1261.5px;top:60.0px;font-size:21.5px;letter-spacing:0.62px;color:#111;transform:scale(1.07,1.0);">112.93亿</div>
<div class="t" id="t0" style="left:127.9px;top:119.0px;font-size:24.0px;letter-spacing:1.5px;color:#777;">分时</div>
<div class="t" id="t1" style="left:287.9px;top:122.0px;font-size:24.0px;letter-spacing:1.9px;color:#777;">5分</div>
<div class="t" id="t2" style="left:440.2px;top:122.0px;font-size:24.0px;letter-spacing:0.95px;color:#777;">15分</div>
<div class="t" id="t3" style="left:603.4px;top:122.0px;font-size:24.0px;letter-spacing:1.1px;color:#000;font-weight:700;">30分</div>
<div class="t" id="t4" style="left:768.5px;top:122.0px;font-size:24.0px;letter-spacing:0.75px;color:#777;">1小时</div>
<div class="t" id="t5" style="left:945.0px;top:122.0px;font-size:24.0px;letter-spacing:0.15px;color:#777;">4小时</div>
<div class="t" id="t6" style="left:1119.5px;top:121.0px;font-size:24.0px;letter-spacing:0.9px;color:#777;">1天</div>
<div class="t" id="t7" style="left:1270.0px;top:122.0px;font-size:24.0px;letter-spacing:0.7px;color:#777;">1周</div>
<div class="t" id="t8" style="left:1421.0px;top:122.0px;font-size:24.0px;letter-spacing:0.8px;color:#777;">更多</div>
<div class="t" id="g1" style="left:158.5px;top:170.0px;font-size:21.0px;letter-spacing:0.37px;color:#eeb012;transform:scale(1.053,1.0);">MA(7): 89,496.6</div>
<div class="t" id="g2" style="left:338.0px;top:170.0px;font-size:21.0px;letter-spacing:0.33px;color:#ec3fb4;transform:scale(1.058,1.0);">MA(25): 89,236.5</div>
<div class="t" id="g3" style="left:530.0px;top:170.0px;font-size:21.0px;letter-spacing:0.38px;color:#8260cc;transform:scale(1.062,1.0);">MA(99): 88,466.3</div>
<div class="t" id="g4" style="left:161.3px;top:622.0px;font-size:21.0px;letter-spacing:0.37px;color:#777;transform:scale(1.052,1.0);">Vol: 4,306.318</div>
<div class="t" id="g5" style="left:322.5px;top:622.0px;font-size:21.0px;letter-spacing:0.37px;color:#eeb012;transform:scale(1.055,1.0);">MA(5): 3,384.488</div>
<div class="t" id="g6" style="left:514.3px;top:622.0px;font-size:21.0px;letter-spacing:0.4px;color:#8260cc;transform:scale(1.059,1.0);">MA(10): 2,452.232</div>
<div class="t" id="a0" style="left:1572.2px;top:184.0px;font-size:20.75px;letter-spacing:0.44px;color:#777;transform:scale(1.079,1.0);">90,282.6</div>
<div class="t" id="a1" style="left:1572.2px;top:349.0px;font-size:20.75px;letter-spacing:0.44px;color:#777;transform:scale(1.079,1.0);">89,018.2</div>
<div class="t" id="a2" style="left:1572.2px;top:431.0px;font-size:20.75px;letter-spacing:0.44px;color:#777;transform:scale(1.079,1.0);">88,386.1</div>
<div class="t" id="a3" style="left:1572.2px;top:514.0px;font-size:20.75px;letter-spacing:0.44px;color:#777;transform:scale(1.079,1.0);">87,753.9</div>
<div class="t" id="a4" style="left:1572.2px;top:595.0px;font-size:20.75px;letter-spacing:0.44px;color:#777;transform:scale(1.079,1.0);">87,121.7</div>
<div class="t" id="a8" style="left:1602.8px;top:662.0px;font-size:21.5px;letter-spacing:0.67px;color:#777;transform:scale(1.012,1.0);">8.18K</div>
<div class="t" id="a9" style="left:1623.3px;top:730.0px;font-size:21.5px;letter-spacing:0.57px;color:#777;transform:scale(1.056,1.0);">623</div>
<div class="t" id="pbox" style="left:1572.2px;top:253.0px;font-size:21.0px;letter-spacing:0.44px;color:#000;transform:scale(1.065,1.0);">89,830.8</div>
<div class="t" id="hi" style="left:1362.0px;top:214.0px;font-size:20.75px;letter-spacing:0.4px;color:#000;transform:scale(1.075,1.0);">90,138.9</div>
<div class="t" id="lo" style="left:903.0px;top:590.0px;font-size:20.75px;letter-spacing:0.43px;color:#000;transform:scale(1.091,1.0);">87,265.4</div>
<div class="t" id="d1" style="left:252.0px;top:763.0px;font-size:21.5px;letter-spacing:0.42px;color:#777;transform:scale(1.067,1.0);">2026-01-27 09:30</div>
<div class="t" id="d2" style="left:763.5px;top:763.0px;font-size:21.5px;letter-spacing:0.43px;color:#777;transform:scale(1.061,1.0);">2026-01-28 01:00</div>
<div class="t" id="d3" style="left:1274.0px;top:763.0px;font-size:21.5px;letter-spacing:0.38px;color:#777;transform:scale(1.063,1.0);">2026-01-28 16:30</div>
<div class="t" id="s1" style="left:1719.0px;top:206.0px;font-size:23.25px;letter-spacing:-0.2px;color:#000;font-weight:700;">MA</div>
<div class="t" id="s2" style="left:1710.8px;top:267.0px;font-size:23.25px;letter-spacing:0.2px;color:#777;">EMA</div>
<div class="t" id="s3" style="left:1705.8px;top:329.0px;font-size:23.25px;letter-spacing:0.17px;color:#777;">BOLL</div>
<div class="t" id="s4" style="left:1713.4px;top:391.0px;font-size:23.25px;letter-spacing:-1.05px;color:#777;">SAR</div>
<div class="t" id="s5" style="left:1716.0px;top:453.0px;font-size:23.25px;letter-spacing:-0.5px;color:#777;">AVL</div>
<div class="t" id="s6" style="left:1705.9px;top:513.0px;font-size:23.25px;letter-spacing:-0.47px;color:#777;">SUPE</div>
<div class="t" id="s7" style="left:1728.0px;top:544.0px;font-size:23.25px;letter-spacing:0.0px;color:#777;">R</div>
<div class="t" id="s8" style="left:1713.8px;top:630.0px;font-size:23.25px;letter-spacing:0.1px;color:#000;-webkit-text-stroke:0.5px #000;">VOL</div>
<div class="t" id="wk1" style="left:1645.8px;top:789.3px;font-size:21.5px;letter-spacing:0.0px;color:#fff;text-shadow:1px 1px 0.9px rgba(0,0,0,.5);">@</div>
<div class="t" id="wk2" style="left:1674.2px;top:792.3px;font-size:23.0px;letter-spacing:1.05px;color:#fff;text-shadow:1px 1px 0.9px rgba(0,0,0,.5);">淘金的黎晨</div>
<svg id="wlogo" width="34" height="34" viewBox="-3 -3 132.61 132.61" style="left:1613.4px;top:785px;width:29.85px;height:29.85px;filter:drop-shadow(1px 1px 0.8px rgba(0,0,0,.5));"><g fill="#fff"><path d="M38.73 53.2l24.59-24.58 24.6 24.6 14.3-14.31L63.32 0 24.42 38.9z"/><path d="M0 63.31l14.3-14.31 14.31 14.31-14.31 14.3z"/><path d="M38.73 73.41l24.59 24.59 24.6-24.6 14.31 14.29-38.9 38.91-38.91-38.88z"/><path d="M98 63.31l14.3-14.31 14.31 14.3-14.31 14.32z"/><path d="M77.83 63.3L63.32 48.78 48.81 63.28l14.51 14.5z"/></g></svg>
</div>
</body></html>
